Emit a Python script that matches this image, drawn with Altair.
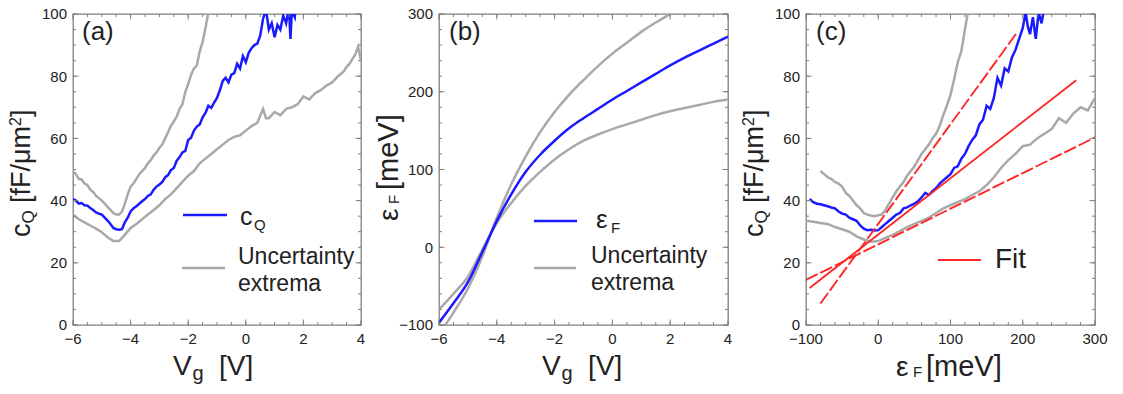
import altair as alt
import pandas as pd

FONT = "Liberation Sans"
BLUE = "#1a1aff"
GRAY = "#a9a9a9"
RED = "#ff2626"
FRAME = "#808080"
TXT = "#222222"

W_A, W, H = 288, 289, 311

# ---------------- panel (a): c_Q vs V_g ----------------
vg_cq = [-6.0, -5.9, -5.8, -5.7, -5.6, -5.5, -5.4, -5.3, -5.2, -5.1, -5.0, -4.9, -4.8, -4.7, -4.6,
         -4.5, -4.4, -4.3, -4.2, -4.1, -4.0, -3.9, -3.8, -3.7, -3.6, -3.5, -3.4, -3.3, -3.2, -3.1,
         -3.0, -2.9, -2.8, -2.7, -2.6, -2.5, -2.4, -2.3, -2.2, -2.1, -2.0, -1.9, -1.8, -1.7, -1.6,
         -1.5, -1.4, -1.3, -1.2, -1.1, -1.0, -0.9, -0.8, -0.7, -0.6, -0.5, -0.4, -0.3, -0.2, -0.1,
         0.0, 0.1, 0.2, 0.3, 0.4, 0.5, 0.6, 0.7, 0.8, 0.9, 1.0, 1.1, 1.2, 1.3, 1.4, 1.5, 1.55, 1.6,
         1.7, 1.8]
cq = [40.5, 40.0, 39.0, 39.2, 38.5, 38.4, 37.6, 37.0, 36.2, 35.8, 35.5, 34.5, 33.6, 32.5, 31.2,
      30.8, 30.6, 30.8, 33.0, 34.5, 36.5, 37.5, 38.2, 39.0, 39.8, 40.5, 41.5, 42.0, 43.5, 44.5,
      45.2, 46.0, 47.5, 48.2, 49.8, 50.5, 52.8, 54.0, 55.5, 56.0, 59.5, 60.2, 62.5, 63.8, 64.5,
      66.8, 68.2, 70.5, 69.8, 71.5, 73.0, 75.5, 78.5, 79.5, 78.0, 80.5, 81.0, 84.0, 82.5, 86.5,
      84.5, 87.5, 89.0, 90.0, 90.5, 93.0, 98.5, 101.5, 95.0, 97.0, 92.5, 96.5, 95.0, 99.5, 97.0,
      102.0, 92.0, 101.0, 99.0, 110.0]

vg_up = [-6.0, -5.9, -5.8, -5.7, -5.6, -5.5, -5.4, -5.3, -5.2, -5.1, -5.0, -4.9, -4.8, -4.7, -4.6,
         -4.5, -4.4, -4.3, -4.2, -4.1, -4.0, -3.9, -3.8, -3.7, -3.6, -3.5, -3.4, -3.3, -3.2, -3.1,
         -3.0, -2.9, -2.8, -2.7, -2.6, -2.5, -2.4, -2.3, -2.2, -2.1, -2.0, -1.9, -1.8, -1.7, -1.6,
         -1.5, -1.4, -1.3, -1.2]
cq_up = [49.5, 48.5, 47.0, 46.8, 45.5, 45.0, 43.5, 42.8, 41.5, 40.8, 40.0, 39.0, 38.0, 37.0, 36.0,
         35.5, 35.5, 36.5, 39.0, 42.0, 44.5, 45.5, 47.0, 48.5, 49.5, 50.5, 52.0, 53.0, 54.5, 55.5,
         57.0, 58.0, 60.0, 62.0, 64.0, 65.5, 67.0, 69.5, 71.0, 75.0, 77.5, 80.5, 82.5, 83.5, 88.0,
         91.0, 95.5, 100.5, 105.0]

vg_lo = [-6.0, -5.8, -5.6, -5.4, -5.2, -5.0, -4.8, -4.6, -4.4, -4.2, -4.0, -3.8, -3.6, -3.4, -3.2,
         -3.0, -2.8, -2.6, -2.4, -2.2, -2.0, -1.8, -1.6, -1.4, -1.2, -1.0, -0.8, -0.6, -0.4, -0.2,
         0.0, 0.2, 0.4, 0.6, 0.7, 0.8, 1.0, 1.2, 1.4, 1.6, 1.8, 2.0, 2.2, 2.4, 2.6, 2.8, 3.0, 3.2,
         3.4, 3.5, 3.6, 3.7, 3.8, 3.9, 4.0]
cq_lo = [35.5, 34.0, 33.0, 32.0, 31.0, 29.8, 28.2, 27.0, 27.0, 29.0, 31.2, 32.5, 34.0, 35.5, 37.0,
         38.5, 40.5, 42.0, 44.0, 46.0, 48.0, 49.5, 52.0, 53.5, 55.0, 56.5, 58.0, 59.5, 60.5, 61.0,
         62.5, 64.0, 65.0, 69.5, 66.5, 66.5, 68.5, 67.5, 69.5, 70.0, 71.0, 73.5, 72.5, 74.5, 75.5,
         77.0, 78.0, 80.0, 81.5, 83.0, 84.0, 85.5, 87.0, 89.5, 85.0]

# ---------------- panel (b): eps_F vs V_g ----------------
vg_b = [-6.0, -5.5, -5.0, -4.5, -4.0, -3.5, -3.0, -2.5, -2.0, -1.5, -1.0, -0.5, 0.0, 0.5, 1.0,
        1.5, 2.0, 2.5, 3.0, 3.5, 4.0]
eps_b = [-97, -72, -45, -6, 34, 68, 97, 119, 137, 153, 166, 178, 190, 201, 212, 223, 234, 244,
         253, 262, 271]
vg_b_up = [-6.0, -5.5, -5.0, -4.5, -4.0, -3.5, -3.0, -2.5, -2.0, -1.5, -1.0, -0.5, 0.0, 0.5, 1.0,
           1.5, 2.0, 2.5]
eps_b_up = [-112, -84, -53, -12, 38, 81, 117, 148, 174, 196, 215, 233, 249, 263, 277, 289, 300, 311]
eps_b_lo = [-80, -60, -38, -3, 31, 57, 79, 97, 113, 126, 137, 145, 152, 158, 164, 170, 175, 179,
            183, 187, 190]

# ---------------- panel (c): c_Q vs eps_F ----------------
eps_c = [-95, -90, -85, -80, -75, -70, -65, -60, -55, -50, -45, -40, -35, -30, -25, -20, -15, -10,
         -5, 0, 5, 10, 15, 20, 25, 30, 35, 40, 45, 50, 55, 60, 65, 70, 75, 80, 85, 90, 95, 100, 105,
         110, 115, 120, 125, 130, 135, 140, 145, 150, 155, 160, 165, 170, 175, 180, 185, 190, 195,
         200, 204, 207, 210, 214, 218, 222, 226, 229]
cq_c = [40.5, 39.5, 39.0, 38.8, 38.5, 38.2, 37.8, 37.5, 36.5, 35.8,
        35.5, 34.5, 34.0, 33.5, 32.0, 31.0, 30.5, 30.6, 30.4, 30.5,
        31.5, 32.5, 33.5, 34.5, 35.5, 36.0, 37.5, 37.8, 38.5, 39.0,
        39.8, 41.0, 42.5, 41.8, 43.0, 44.0, 45.5, 46.5, 47.5, 48.5,
        50.5, 51.0, 53.5, 55.0, 57.5, 59.5, 61.0, 64.5, 66.0, 70.5,
        69.5, 73.0, 79.5, 77.0, 82.5, 81.5, 86.0, 88.5, 92.0, 95.5,
        100.5, 96.0, 93.5, 99.0, 92.0, 100.5, 97.0, 101.0]
eps_c_up = [-80, -75, -70, -65, -60, -55, -50, -45, -40, -35, -30, -25, -20, -15, -10, -5, 0, 5,
            10, 15, 20, 25, 30, 35, 40, 45, 50, 55, 60, 65, 70, 75, 80, 85, 90, 95, 100, 105, 110,
            115, 120, 124, 127]
cq_c_up = [49.5, 48.5, 47.5, 47.0, 46.0, 45.5, 44.5, 42.5, 41.5, 40.0,
           38.5, 37.5, 36.0, 35.5, 35.2, 35.0, 35.3, 35.5, 37.0, 39.0,
           41.0, 43.0, 44.5, 46.0, 48.0, 49.5, 51.0, 53.0, 55.0, 56.5,
           58.0, 60.0, 61.5, 64.0, 67.5, 70.5, 74.0, 79.0, 84.5, 88.0,
           95.0, 100.5, 106.0]
eps_c_lo = [-100, -90, -80, -70, -60, -50, -40, -30, -20, -10, 0, 10, 20, 30, 40, 50, 60, 70, 80,
            90, 100, 110, 120, 130, 140, 150, 160, 170, 180, 190, 200, 210, 220, 230, 240, 250,
            260, 270, 280, 290, 300]
cq_c_lo = [33.5, 33.2, 32.8, 32.5, 31.5, 30.8, 30.0, 28.5, 27.5, 26.8,
           27.0, 28.0, 29.0, 30.2, 31.5, 32.5, 33.5, 34.5, 36.0, 37.5,
           38.5, 39.5, 40.5, 41.8, 43.0, 45.0, 47.5, 50.5, 53.0, 55.0,
           57.5, 58.0, 60.0, 61.5, 63.0, 66.5, 65.0, 68.0, 70.0, 69.0,
           73.0]

fit_eps = [-95, 274]
fit_cq = [11.9, 78.7]
fit_hi_eps = [-80, 191]
fit_hi_cq = [6.9, 93.7]
fit_lo_eps = [-100, 300]
fit_lo_cq = [14.5, 60.3]

# tick positions and tick labels
xlab_vg = [-6, -4, -2, 0, 2, 4]
xlab_vg_txt = ["\u22126", "\u22124", "\u22122", "0", "2", "4"]
xmin_vg = [-6 + 0.5 * i for i in range(21)]
ylab_cq = [0, 20, 40, 60, 80, 100]
ylab_cq_txt = ["0", "20", "40", "60", "80", "100"]
ymin_cq = [5 * i for i in range(21)]
ylab_eps = [-100, 0, 100, 200, 300]
ylab_eps_txt = ["\u2212100", "0", "100", "200", "300"]
ymin_eps = [-100 + 20 * i for i in range(21)]
xlab_eps = [-100, 0, 100, 200, 300]
xlab_eps_txt = ["\u2212100", "0", "100", "200", "300"]
xmin_eps = [-100 + 20 * i for i in range(21)]

one = pd.DataFrame({"k": [0]})


def series(xv, yv, color, xs, ys, width=2.5, dash=None, interp="linear"):
    df = pd.DataFrame({"x": xv, "y": yv})
    kw = dict(color=color, strokeWidth=width, clip=True, interpolate=interp)
    if dash:
        kw["strokeDash"] = dash
    return alt.Chart(df).mark_line(**kw).encode(
        x=alt.X("x:Q", scale=xs, axis=None),
        y=alt.Y("y:Q", scale=ys, axis=None),
        order=alt.Order("x:Q"),
    )


def xticks(vals, length, xs):
    df = pd.DataFrame({"v": vals})
    base = alt.Chart(df).mark_rule(color=FRAME, strokeWidth=1)
    enc = alt.X("v:Q", scale=xs, axis=None)
    return [base.encode(x=enc, y=alt.value(H), y2=alt.value(H - length)),
            base.encode(x=enc, y=alt.value(0), y2=alt.value(length))]


def yticks(vals, length, ys, w):
    df = pd.DataFrame({"v": vals})
    base = alt.Chart(df).mark_rule(color=FRAME, strokeWidth=1)
    enc = alt.Y("v:Q", scale=ys, axis=None)
    return [base.encode(y=enc, x=alt.value(0), x2=alt.value(length)),
            base.encode(y=enc, x=alt.value(w), x2=alt.value(w - length))]


def xlabels(vals, texts, xs):
    df = pd.DataFrame({"v": vals, "t": texts})
    return alt.Chart(df).mark_text(font=FONT, fontSize=15, color=TXT, align="center",
                                   baseline="alphabetic").encode(
        x=alt.X("v:Q", scale=xs, axis=None), y=alt.value(H + 19), text="t:N")


def ylabels(vals, texts, ys):
    df = pd.DataFrame({"v": vals, "t": texts})
    return alt.Chart(df).mark_text(font=FONT, fontSize=15, color=TXT, align="right",
                                   baseline="alphabetic", dy=5.3).encode(
        y=alt.Y("v:Q", scale=ys, axis=None), x=alt.value(-6), text="t:N")


def frame(xmaj, xmaj_t, xmin, ymaj, ymaj_t, ymin, xs, ys, w):
    return (xticks(xmin, 3, xs) + xticks(xmaj, 5.5, xs)
            + yticks(ymin, 3, ys, w) + yticks(ymaj, 5.5, ys, w)
            + [xlabels(xmaj, xmaj_t, xs), ylabels(ymaj, ymaj_t, ys)])


def txt(s, x, y, size, angle=None, color=TXT):
    kw = dict(text=s, font=FONT, fontSize=size, align="left", baseline="alphabetic", color=color)
    if angle is not None:
        kw["angle"] = angle
    return alt.Chart(one).mark_text(**kw).encode(x=alt.value(x), y=alt.value(y))


def seg(x1, x2, y, color, width=2.5):
    return alt.Chart(one).mark_rule(color=color, strokeWidth=width).encode(
        x=alt.value(x1), x2=alt.value(x2), y=alt.value(y))


def cq_ytitle():
    return [
        txt("c", -43, 223, 27, 270),
        txt("Q", -39, 209.5, 17, 270),
        txt("[fF/\u03bcm", -43, 189, 27, 270),
        txt("2", -52, 111.9, 16, 270),
        txt("]", -43, 103, 27, 270),
    ]


def vg_xtitle(x0):
    return [txt("V", x0, 361, 28), txt("g", x0 + 19.5, 366, 20), txt("[V]", x0 + 46, 361, 28)]


# ---------- panel (a) ----------
xs_vg = alt.Scale(domain=[-6, 4], nice=False, zero=False)
ys_cq = alt.Scale(domain=[0, 100], nice=False, zero=False)
pa = alt.layer(
    series(vg_lo, cq_lo, GRAY, xs_vg, ys_cq),
    series(vg_up, cq_up, GRAY, xs_vg, ys_cq),
    series(vg_cq, cq, BLUE, xs_vg, ys_cq),
    *frame(xlab_vg, xlab_vg_txt, xmin_vg, ylab_cq, ylab_cq_txt, ymin_cq, xs_vg, ys_cq, W_A),
    txt("(a)", 9, 26, 26),
    seg(110, 154, 201, BLUE),
    txt("c", 167, 211, 25),
    txt("Q", 181, 216, 15),
    seg(109, 152, 254, GRAY),
    txt("Uncertainty", 165, 250, 23),
    txt("extrema", 165, 277, 23),
    *vg_xtitle(100),
    *cq_ytitle(),
).properties(width=W_A, height=H)

# ---------- panel (b) ----------
ys_eps = alt.Scale(domain=[-100, 300], nice=False, zero=False)
pb = alt.layer(
    series(vg_b, eps_b_lo, GRAY, xs_vg, ys_eps, interp="monotone"),
    series(vg_b_up, eps_b_up, GRAY, xs_vg, ys_eps, interp="monotone"),
    series(vg_b, eps_b, BLUE, xs_vg, ys_eps, interp="monotone"),
    *frame(xlab_vg, xlab_vg_txt, xmin_vg, ylab_eps, ylab_eps_txt, ymin_eps, xs_vg, ys_eps, W),
    txt("(b)", 10, 26, 26),
    seg(95, 138, 207, BLUE),
    txt("\u03b5", 157, 214, 26),
    txt("F", 172, 219, 15),
    seg(95, 137, 254, GRAY),
    txt("Uncertainty", 152, 249, 23),
    txt("extrema", 152, 276, 23),
    *vg_xtitle(103),
    txt("\u03b5", -41, 207, 28, 270),
    txt("F", -40, 190, 15, 270),
    txt("[meV]", -41, 176, 29, 270),
).properties(width=W, height=H)

# ---------- panel (c) ----------
xs_eps = alt.Scale(domain=[-100, 300], nice=False, zero=False)
pc = alt.layer(
    series(eps_c_lo, cq_c_lo, GRAY, xs_eps, ys_cq),
    series(eps_c_up, cq_c_up, GRAY, xs_eps, ys_cq),
    series(eps_c, cq_c, BLUE, xs_eps, ys_cq),
    series(fit_eps, fit_cq, RED, xs_eps, ys_cq, width=1.9),
    series(fit_hi_eps, fit_hi_cq, RED, xs_eps, ys_cq, width=1.9, dash=[13, 3]),
    series(fit_lo_eps, fit_lo_cq, RED, xs_eps, ys_cq, width=1.9, dash=[13, 3]),
    *frame(xlab_eps, xlab_eps_txt, xmin_eps, ylab_cq, ylab_cq_txt, ymin_cq, xs_eps, ys_cq, W),
    txt("(c)", 10, 26, 26),
    seg(132, 175, 246, RED, 2.2),
    txt("Fit", 189, 254, 28),
    txt("\u03b5", 90, 361.5, 28),
    txt("F", 107, 363, 15),
    txt("[meV]", 120, 361.5, 29),
    *cq_ytitle(),
).properties(width=W, height=H)

chart = alt.hconcat(pa, pb, pc, spacing=78, bounds="flush").properties(
    padding={"left": 65, "top": 6, "right": 1040, "bottom": 371},
    autosize=alt.AutoSizeParams(type="none"),
).configure_view(stroke=FRAME, strokeWidth=1.3)

chart.save("out.html", embed_options={"renderer": "svg", "actions": False})
